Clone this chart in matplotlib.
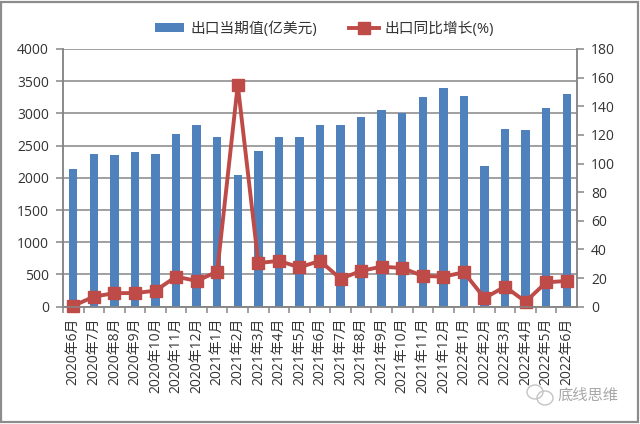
import numpy as np
import matplotlib.pyplot as plt
from matplotlib.patches import Ellipse, Rectangle

plt.rcParams["font.family"] = ["Open Sans", "Noto Sans CJK SC", "DejaVu Sans"]

months = ["2020年6月", "2020年7月", "2020年8月", "2020年9月", "2020年10月", "2020年11月", "2020年12月",
          "2021年1月", "2021年2月", "2021年3月", "2021年4月", "2021年5月", "2021年6月", "2021年7月",
          "2021年8月", "2021年9月", "2021年10月", "2021年11月", "2021年12月", "2022年1月", "2022年2月",
          "2022年3月", "2022年4月", "2022年5月", "2022年6月"]
export_value = [2130, 2375, 2350, 2400, 2375, 2680, 2820, 2635, 2045, 2410, 2635, 2635, 2815, 2820,
                2945, 3050, 3000, 3255, 3395, 3270, 2180, 2755, 2735, 3085, 3305]
export_growth = [0.6, 7, 9.5, 9.5, 11.2, 21, 18, 24.5, 155, 30.5, 32, 27.5, 32, 19.5,
                 25, 28, 27, 21.5, 21, 24, 6, 14, 3.5, 17, 18]
left_ticks = [0, 500, 1000, 1500, 2000, 2500, 3000, 3500, 4000]
right_ticks = [0, 20, 40, 60, 80, 100, 120, 140, 160, 180]

GRAY = "#868686"
TEXT = "#333333"
BLUE = "#4F81BD"
RED = "#BE4B48"

fig = plt.figure(figsize=(6.4, 4.24), dpi=100)
ax = fig.add_axes([63 / 640, 1 - 306.7 / 424, 514 / 640, 257.7 / 424])

x = np.arange(len(months))
bars = ax.bar(x, export_value, width=0.41, color=BLUE, label="出口当期值(亿美元)")
ax.set_xlim(-0.5, len(months) - 0.5)
ax.set_ylim(0, 4000)
ax.set_yticks(left_ticks)
ax.yaxis.grid(True, color=GRAY, linewidth=1.1)
ax.set_axisbelow(True)
ax.set_xticks(x - 0.5)
ax.set_xticks(x, labels=months, minor=True, rotation=90)
ax.tick_params(axis="x", which="major", length=4, width=1.1, color=GRAY, labelbottom=False)
ax.tick_params(axis="x", which="minor", length=0, pad=8, labelsize=10, labelcolor=TEXT)
ax.tick_params(axis="y", length=5, width=1.1, color=GRAY, labelsize=10, labelcolor=TEXT, pad=5)

ax2 = ax.twinx()
line, = ax2.plot(x, export_growth, color=RED, linewidth=2.8, marker="s", markersize=8,
                 markeredgecolor=RED, clip_on=False, label="出口同比增长(%)")
ax2.set_ylim(0, 180)
ax2.set_yticks(right_ticks)
ax2.tick_params(axis="y", length=5, width=1.1, color=GRAY, labelsize=10, labelcolor=TEXT, pad=5)

for a in (ax, ax2):
    a.spines["top"].set_visible(False)
    for side in ("left", "right", "bottom"):
        a.spines[side].set_color(GRAY)
        a.spines[side].set_linewidth(1.1)

fig.legend(handles=[bars, line], loc="center", bbox_to_anchor=(0.507, 1 - 29 / 424), ncol=2, frameon=False,
           fontsize=10.6, labelcolor=TEXT, columnspacing=2.2, handlelength=2.0, handleheight=0.6, handletextpad=0.4)

# outer chart frame
fig.add_artist(Rectangle((0.002, 0.004), 0.995, 0.991, transform=fig.transFigure,
                         fill=False, edgecolor="#8c8c8c", linewidth=1.6))

# watermark
fig.text(558 / 640, 1 - 396 / 424, "底线思维", fontsize=11, color="#a8a8a8", ha="left", va="center")
fig.add_artist(Ellipse((535 / 640, 1 - 392 / 424), 16 / 640, 14 / 424, transform=fig.transFigure,
                       fill=False, edgecolor="#c4c4c4", linewidth=1))
fig.add_artist(Ellipse((545 / 640, 1 - 398 / 424), 16 / 640, 14 / 424, transform=fig.transFigure,
                       fill=False, edgecolor="#c4c4c4", linewidth=1))

fig.savefig("out.png", dpi=100)
